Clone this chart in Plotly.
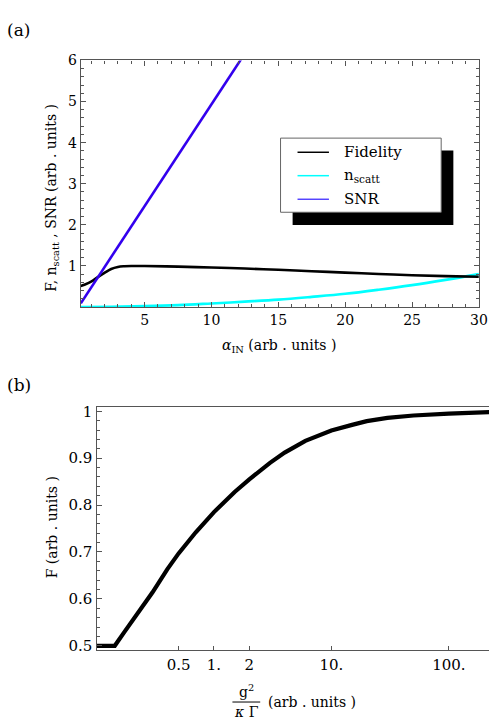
import plotly.graph_objects as go

# ---------- data (a) ----------
alpha_fid = [0.23, 0.5, 1.0, 1.5, 2.0, 2.5, 3.0, 3.5, 4.0, 5.0, 7.5, 10, 12.5, 15, 17.5, 20, 22.5, 25, 27.5, 30]
fidelity = [0.51, 0.54, 0.615, 0.725, 0.83, 0.925, 0.975, 0.992, 0.998, 0.997, 0.982, 0.96, 0.935, 0.905, 0.87, 0.837, 0.803, 0.772, 0.75, 0.735]

alpha_ns = [0.23, 2.5, 5, 7.5, 10, 12.5, 15, 17.5, 20, 22.5, 25, 27.5, 30]
n_scatt = [0.0, 0.005, 0.02, 0.045, 0.086, 0.13, 0.178, 0.245, 0.32, 0.42, 0.532, 0.66, 0.80]

alpha_snr = [0.23, 3, 6, 9, 12.5]
snr = [0.09, 1.46, 2.95, 4.43, 6.17]

xticks_a = [5, 10, 15, 20, 25, 30]
yticks_a = [1, 2, 3, 4, 5, 6]

# ---------- data (b) ----------
coupling = [0.1, 0.143, 0.17, 0.2, 0.25, 0.3, 0.4, 0.5, 0.7, 1, 1.5, 2, 3, 4, 6, 8, 10, 15, 20, 30, 50, 100, 220]
fid_b = [0.5, 0.5, 0.527, 0.552, 0.587, 0.614, 0.663, 0.697, 0.742, 0.785, 0.828, 0.855, 0.89, 0.912, 0.937,
         0.950, 0.959, 0.971, 0.979, 0.986, 0.991, 0.995, 0.998]
xticks_b = [0.5, 1, 2, 10, 100]
xticktext_b = ["0.5", "1.", "2", "10.", "100."]
yticks_b = [0.5, 0.6, 0.7, 0.8, 0.9, 1.0]
yticktext_b = ["0.5", "0.6", "0.7", "0.8", "0.9", "1"]

W, H = 498, 725
FONT = "DejaVu Serif"
FRAME = "#555555"


def px(x):
    return x / W


def py(y):
    return 1 - y / H


fig = go.Figure()

fig.add_trace(go.Scatter(x=alpha_ns, y=n_scatt, mode="lines", line=dict(color="#00ffff", width=2.6, shape="spline"),
                         xaxis="x", yaxis="y", showlegend=False))
fig.add_trace(go.Scatter(x=alpha_fid, y=fidelity, mode="lines", line=dict(color="black", width=2.6, shape="spline"),
                         xaxis="x", yaxis="y", showlegend=False))
fig.add_trace(go.Scatter(x=alpha_snr, y=snr, mode="lines", line=dict(color="#3300ee", width=2.6),
                         xaxis="x", yaxis="y", showlegend=False))

fig.add_trace(go.Scatter(x=coupling, y=fid_b, mode="lines", line=dict(color="black", width=4.2),
                         xaxis="x2", yaxis="y2", showlegend=False))

tfa = dict(family=FONT, size=14, color="black")
tfb = dict(family=FONT, size=15, color="black")
ttl = dict(family=FONT, size=14, color="black")
common_ax = dict(showgrid=False, zeroline=False, linecolor=FRAME, linewidth=1.3,
                 tickcolor=FRAME, ticks="inside")

fig.update_layout(
    width=W, height=H,
    margin=dict(l=0, r=0, t=0, b=0),
    paper_bgcolor="white", plot_bgcolor="white",
    font=dict(family=FONT, color="black", size=14),
    xaxis=dict(domain=[px(82.3), px(487.7)], range=[0.23, 30], anchor="y",
               tickvals=xticks_a, ticklen=5, showline=True, mirror="allticks", tickfont=tfa,
               minor=dict(dtick=1, ticklen=3, ticks="inside", tickcolor=FRAME, showgrid=False),
               **common_ax),
    yaxis=dict(domain=[py(304), py(53.3)], range=[0, 6], anchor="x",
               tickvals=yticks_a, ticklen=5, showline=True, mirror="allticks", tickfont=tfa,
               minor=dict(dtick=0.2, ticklen=3, ticks="inside", tickcolor=FRAME, showgrid=False),
               **common_ax),
    xaxis2=dict(domain=[px(98.3), 1.0], type="log", range=[-1, 2.342], anchor="y2",
                tickvals=xticks_b, ticktext=xticktext_b, ticklen=4, showline=True, mirror=True,
                tickfont=tfb, **common_ax),
    yaxis2=dict(domain=[py(653.3), py(405.3)], range=[0.49, 1.01], anchor="x2",
                tickvals=yticks_b, ticktext=yticktext_b, ticklen=5, showline=True, mirror=False,
                tickfont=tfb,
                minor=dict(dtick=0.02, ticklen=3, ticks="inside", tickcolor=FRAME, showgrid=False),
                **common_ax),
)

shapes = []
annotations = []

# legend shadow and box
shapes.append(dict(type="rect", xref="paper", yref="paper", x0=px(298), x1=px(461.7), y0=py(220.7), y1=py(145),
                   fillcolor="black", line=dict(width=0), layer="above"))
shapes.append(dict(type="rect", xref="paper", yref="paper", x0=px(285.7), x1=px(449.3), y0=py(207.7), y1=py(132.3),
                   fillcolor="white", line=dict(color="#666666", width=1), layer="above"))
legend_items = [("Fidelity", "black", 146.7), ("n<sub>scatt</sub>", "#00ffff", 170.5), ("SNR", "#5544ff", 194.5)]
for label, col, yy in legend_items:
    shapes.append(dict(type="line", xref="paper", yref="paper", x0=px(303), x1=px(335), y0=py(yy), y1=py(yy),
                       line=dict(color=col, width=1.5), layer="above"))
    annotations.append(dict(text=label, xref="paper", yref="paper", x=px(348), y=py(yy), xanchor="left",
                            yanchor="middle", showarrow=False, font=dict(family=FONT, size=15, color="black")))

# panel labels
annotations.append(dict(text="(a)", xref="paper", yref="paper", x=px(5), y=py(22), xanchor="left", yanchor="middle",
                        showarrow=False, font=dict(family=FONT, size=17, color="black")))
annotations.append(dict(text="(b)", xref="paper", yref="paper", x=px(5), y=py(383), xanchor="left", yanchor="middle",
                        showarrow=False, font=dict(family=FONT, size=17, color="black")))

# axis titles (a)
annotations.append(dict(text="F, n<sub>scatt</sub> , SNR (arb . units )", xref="paper", yref="paper",
                        x=px(53), y=py(193), textangle=-90, xanchor="center", yanchor="middle",
                        showarrow=False, font=ttl))
annotations.append(dict(text="<i>α</i><sub>IN</sub> (arb . units )", xref="paper", yref="paper",
                        x=px(284), y=py(344), xanchor="center", yanchor="middle",
                        showarrow=False, font=ttl))

# axis titles (b)
annotations.append(dict(text="F (arb . units )", xref="paper", yref="paper",
                        x=px(53), y=py(528), textangle=-90, xanchor="center", yanchor="middle",
                        showarrow=False, font=ttl))
annotations.append(dict(text="g<sup>2</sup>", xref="paper", yref="paper", x=px(251), y=py(694),
                        xanchor="center", yanchor="middle", showarrow=False, font=ttl))
shapes.append(dict(type="line", xref="paper", yref="paper", x0=px(236.7), x1=px(265), y0=py(705.7), y1=py(705.7),
                   line=dict(color="black", width=1)))
annotations.append(dict(text="<i>κ</i> Γ", xref="paper", yref="paper", x=px(251), y=py(716),
                        xanchor="center", yanchor="middle", showarrow=False, font=ttl))
annotations.append(dict(text="(arb . units )", xref="paper", yref="paper", x=px(318), y=py(705.7),
                        xanchor="center", yanchor="middle", showarrow=False, font=ttl))

fig.update_layout(shapes=shapes, annotations=annotations)

page_fix = (
    "document.documentElement.style.margin='0';document.documentElement.style.overflow='hidden';"
    "document.body.style.margin='0';document.body.style.padding='0';document.body.style.overflow='hidden';"
    "var gd=document.getElementById('{plot_id}');gd.style.position='absolute';"
    "gd.style.left='0px';gd.style.top='0px';"
)
fig.write_html("out.html", post_script=page_fix, config={"displayModeBar": False})
